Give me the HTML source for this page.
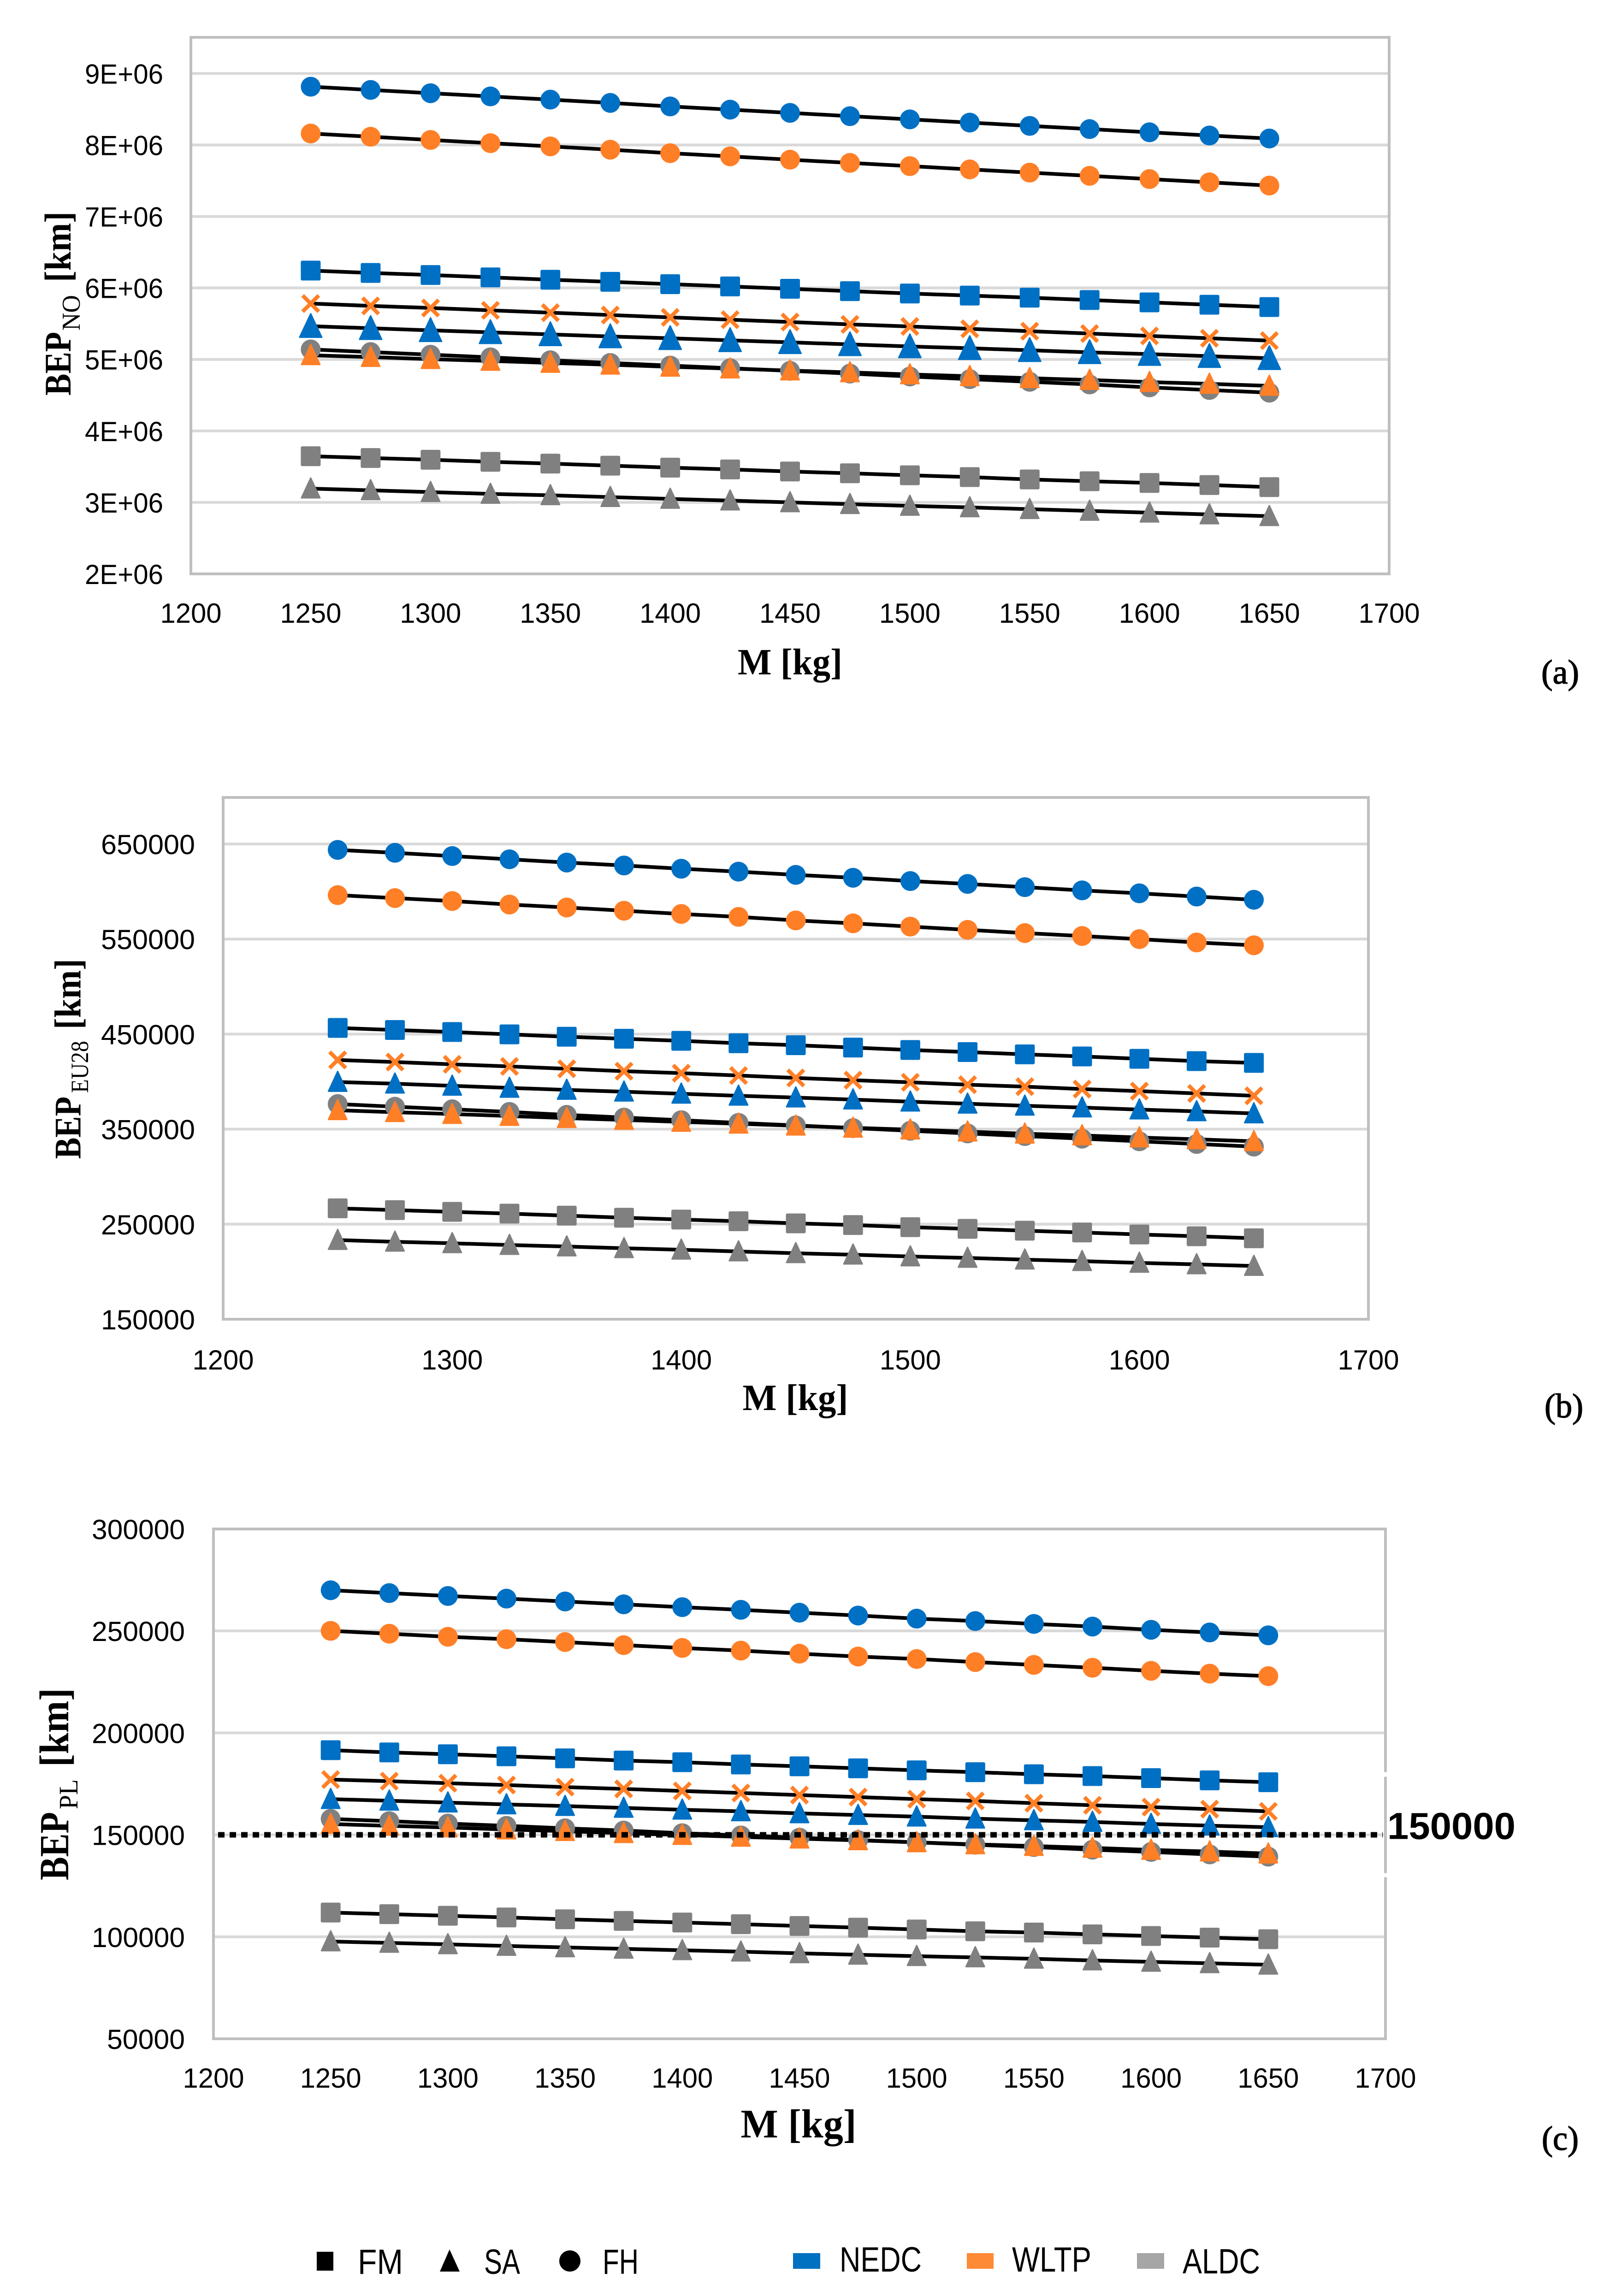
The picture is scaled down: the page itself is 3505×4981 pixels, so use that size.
<!DOCTYPE html>
<html lang="en">
<head>
<meta charset="utf-8">
<title>BEP versus vehicle mass</title>
<style>
html,body{margin:0;padding:0;background:#fff;width:3505px;height:4981px;overflow:hidden}
svg{display:block}
text{fill:#000}
</style>
</head>
<body>
<svg id="page" xmlns="http://www.w3.org/2000/svg" width="3505" height="4981" viewBox="0 0 3505 4981">
  <g id="charts"></g>
  <g font-family="'Liberation Serif',serif" font-size="74" stroke="#000" stroke-width="1.5">
    <text x="3343" y="1483" textLength="82" lengthAdjust="spacingAndGlyphs">(a)</text>
    <text x="3350" y="3075" textLength="84" lengthAdjust="spacingAndGlyphs">(b)</text>
    <text x="3344" y="4664" textLength="80" lengthAdjust="spacingAndGlyphs">(c)</text>
  </g>
  <g font-family="'Liberation Sans',sans-serif" font-size="76">
    <rect x="687" y="4885" width="36" height="41" fill="#000"/>
    <text x="776" y="4933" textLength="98" lengthAdjust="spacingAndGlyphs">FM</text>
    <polygon points="975,4880 997,4928 954,4928" fill="#000"/>
    <text x="1050" y="4933" textLength="78" lengthAdjust="spacingAndGlyphs">SA</text>
    <ellipse cx="1236" cy="4905" rx="23" ry="23" fill="#000"/>
    <text x="1307" y="4933" textLength="78" lengthAdjust="spacingAndGlyphs">FH</text>
    <rect x="1720" y="4888" width="59" height="34" fill="#0070c0"/>
    <text x="1821" y="4928" textLength="178" lengthAdjust="spacingAndGlyphs">NEDC</text>
    <rect x="2097" y="4888" width="58" height="34" fill="#ff8a35"/>
    <text x="2195" y="4928" textLength="172" lengthAdjust="spacingAndGlyphs">WLTP</text>
    <rect x="2466" y="4888" width="59" height="34" fill="#a6a6a6"/>
    <text x="2565" y="4932" textLength="168" lengthAdjust="spacingAndGlyphs">ALDC</text>
  </g>
</svg>
<script>
// ---------- shared categories ----------
const masses = [1250,1275,1300,1325,1350,1375,1400,1425,1450,1475,1500,1525,1550,1575,1600,1625,1650];

// ---------- chart (a) BEP NO ----------
const aFhNedc = [8.815e6,8.77e6,8.724e6,8.679e6,8.634e6,8.588e6,8.539e6,8.494e6,8.449e6,8.403e6,8.358e6,8.313e6,8.267e6,8.222e6,8.177e6,8.132e6,8.09e6];
const aFhWltp = [8.16e6,8.115e6,8.07e6,8.025e6,7.98e6,7.934e6,7.885e6,7.84e6,7.794e6,7.749e6,7.704e6,7.658e6,7.613e6,7.568e6,7.523e6,7.477e6,7.432e6];
const aFmNedc = [6.243e6,6.21e6,6.181e6,6.148e6,6.115e6,6.086e6,6.053e6,6.021e6,5.988e6,5.955e6,5.922e6,5.893e6,5.864e6,5.831e6,5.798e6,5.765e6,5.733e6];
const aFmWltp = [5.782e6,5.749e6,5.72e6,5.687e6,5.654e6,5.621e6,5.588e6,5.556e6,5.523e6,5.49e6,5.461e6,5.428e6,5.395e6,5.362e6,5.329e6,5.296e6,5.263e6];
const aSaNedc = [5.465e6,5.436e6,5.407e6,5.379e6,5.35e6,5.321e6,5.296e6,5.267e6,5.239e6,5.21e6,5.181e6,5.156e6,5.128e6,5.099e6,5.074e6,5.045e6,5.016e6];
const aFhAldc = [5.14e6,5.103e6,5.066e6,5.029e6,4.988e6,4.951e6,4.914e6,4.877e6,4.84e6,4.802e6,4.761e6,4.724e6,4.687e6,4.65e6,4.609e6,4.572e6,4.535e6];
const aSaWltp = [5.058e6,5.033e6,5.004e6,4.979e6,4.951e6,4.926e6,4.897e6,4.872e6,4.844e6,4.819e6,4.79e6,4.765e6,4.737e6,4.712e6,4.683e6,4.658e6,4.63e6];
const aFmAldc = [3.646e6,3.621e6,3.597e6,3.568e6,3.543e6,3.514e6,3.486e6,3.461e6,3.432e6,3.407e6,3.379e6,3.354e6,3.321e6,3.296e6,3.272e6,3.243e6,3.214e6];
const aSaAldc = [3.193e6,3.169e6,3.144e6,3.119e6,3.099e6,3.074e6,3.049e6,3.025e6,3.0e6,2.975e6,2.951e6,2.93e6,2.905e6,2.881e6,2.856e6,2.831e6,2.807e6];
const aYTickValues = [2e6,3e6,4e6,5e6,6e6,7e6,8e6,9e6];
const aYTickLabels = ["2E+06","3E+06","4E+06","5E+06","6E+06","7E+06","8E+06","9E+06"];
const aXTickValues = [1200,1250,1300,1350,1400,1450,1500,1550,1600,1650,1700];

// ---------- chart (b) BEP EU28 ----------
const bFhNedc = [643800,640700,637300,633900,630500,627400,624000,620900,617500,614500,611000,608000,604600,601200,598100,594700,591300];
const bFhWltp = [596200,593100,590000,586300,583200,579800,576400,573300,569600,566500,563100,559700,556300,553200,549900,546400,543400];
const bFmNedc = [456500,454300,452200,449700,447200,445100,442900,440400,438300,435800,433300,431100,428700,426500,424000,421600,419700];
const bFmWltp = [422800,420600,418200,416000,413500,411000,408900,406400,403900,401500,399300,396800,394700,392200,390000,387600,385100];
const bSaNedc = [399600,397800,395600,393400,391300,389400,387200,385100,383200,381100,378900,376700,374600,372700,370600,368700,366500];
const bFhAldc = [376400,373600,370900,368100,365000,362200,359400,356600,353900,351100,348300,345500,342700,340000,337200,334400,331600];
const bSaWltp = [369900,367800,365900,363800,361600,359700,357600,355700,353600,351400,349500,347400,345200,343400,341200,339300,337200];
const bFmAldc = [266700,264800,263000,261100,259000,256800,254900,253100,250900,249100,246900,245100,243200,241300,239200,237300,235200];
const bSaAldc = [233300,231500,229900,228100,226500,224700,223100,221300,219400,217900,216000,214500,212700,211100,209300,207700,206000];
const bYTickValues = [150000,250000,350000,450000,550000,650000];
const bYTickLabels = ["150000","250000","350000","450000","550000","650000"];
const bXTickValues = [1200,1300,1400,1500,1600,1700];

// ---------- chart (c) BEP PL ----------
const cFhNedc = [269900,268500,267100,265800,264400,263000,261600,260300,258900,257500,256000,254800,253400,252100,250500,249200,247800];
const cFhWltp = [250000,248600,247100,245900,244500,243000,241600,240300,238800,237400,236200,234700,233300,231900,230400,229000,227800];
const cFmNedc = [191500,190400,189500,188500,187500,186400,185600,184500,183600,182600,181600,180700,179700,178800,177800,176700,175800];
const cFmWltp = [177100,176300,175300,174400,173400,172500,171500,170500,169500,168500,167500,166600,165500,164500,163600,162600,161500];
const cSaNedc = [167500,166700,165800,164900,164100,163200,162300,161500,160500,159700,158900,157900,157100,156300,155300,154500,153700];
const cFhAldc = [157800,156700,155500,154400,153200,152100,150800,149700,148600,147400,146300,145100,144000,142700,141600,140400,139300];
const cSaWltp = [155300,154400,153600,152600,151800,150800,149900,149000,148100,147300,146300,145300,144500,143600,142600,141800,140800];
const cFmAldc = [111900,111100,110300,109500,108600,107800,107000,106200,105300,104500,103600,102700,102100,101200,100400,99600,98800];
const cSaAldc = [97700,97000,96300,95500,94800,94100,93400,92700,91900,91200,90500,89900,89200,88400,87700,87000,86300];
const cYTickValues = [50000,100000,150000,200000,250000,300000];
const cYTickLabels = ["50000","100000","150000","200000","250000","300000"];
const cXTickValues = [1200,1250,1300,1350,1400,1450,1500,1550,1600,1650,1700];
const cThresholdValue = 150000;
const cThresholdLabel = "150000";

const SVGNS = 'http://www.w3.org/2000/svg';
const BLUE = '#0070c4', ORANGE = '#ff7f27', GRAY = '#808080';
const SANS = "'Liberation Sans',sans-serif", SERIF = "'Liberation Serif',serif";

function mk(parent, tag, attrs) {
  const el = document.createElementNS(SVGNS, tag);
  for (const k in attrs) el.setAttribute(k, attrs[k]);
  parent.appendChild(el);
  return el;
}

function label(parent, name, str, x, y, opts) {
  const w = opts.width;
  const x0 = opts.anchor === 'end' ? x - w : opts.anchor === 'middle' ? x - w / 2 : x;
  const el = mk(parent, 'text', {
    x: x0, y: y, 'font-family': opts.family || SANS, 'font-size': opts.size,
    'font-weight': opts.weight || 'normal', textLength: w, lengthAdjust: 'spacingAndGlyphs'
  });
  
  
  el.textContent = str;
  return el;
}

function rotated(parent, name, str, bx, startY, size, len, weight) {
  const el = mk(parent, 'text', {
    transform: 'translate(' + bx + ',' + startY + ') rotate(-90)',
    x: 0, y: 0, 'font-family': SERIF, 'font-size': size, 'font-weight': weight,
    textLength: len, lengthAdjust: 'spacingAndGlyphs'
  });
  
  
  el.textContent = str;
}

function marker(parent, kind, px, py, size, color, name) {
  let el;
  const r = size / 2;
  if (kind === 'circle') {
    el = mk(parent, 'circle', { cx: px, cy: py, r: r, fill: color });
  } else if (kind === 'square') {
    el = mk(parent, 'rect', { x: px - r, y: py - r, width: size, height: size, rx: 3, fill: color });
  } else if (kind === 'triangle') {
    const q = r - 1.5;
    el = mk(parent, 'polygon', {
      points: px + ',' + (py - q - 3) + ' ' + (px + q) + ',' + (py + q) + ' ' + (px - q) + ',' + (py + q),
      fill: color, stroke: color, 'stroke-width': 3, 'stroke-linejoin': 'round'
    });
  } else {
    const d = r - 4;
    el = mk(parent, 'path', {
      d: 'M' + (px - d) + ' ' + (py - d) + 'L' + (px + d) + ' ' + (py + d) + 'M' + (px - d) + ' ' + (py + d) + 'L' + (px + d) + ' ' + (py - d),
      fill: 'none', stroke: color, 'stroke-width': 8.5
    });
  }
  
  
}

function drawChart(cfg) {
  const root = document.getElementById('charts');
  const g = mk(root, 'g', {});
  
  

  const xScale = v => cfg.left + (v - cfg.xMin) / (cfg.xMax - cfg.xMin) * (cfg.right - cfg.left);
  const yScale = v => cfg.yBottomPx + (v - cfg.yMin) / (cfg.yRefVal - cfg.yMin) * (cfg.yRefPx - cfg.yBottomPx);

  // gridlines
  cfg.yTickValues.forEach((v, i) => {
    const py = yScale(v);
    if (i > 0 && py > cfg.top + 4) {
      const line = mk(g, 'line', { x1: cfg.left, x2: cfg.right, y1: py, y2: py, stroke: '#d9d9d9', 'stroke-width': 6 });
      
      
    }
    label(g, 'y-tick-' + cfg.yTickLabels[i], cfg.yTickLabels[i], cfg.yLabelRight, py + 22, {
      size: 60, anchor: 'end', width: cfg.yLabelWidth(cfg.yTickLabels[i])
    });
  });

  // frame
  const frame = mk(g, 'rect', {
    x: cfg.left, y: cfg.top, width: cfg.right - cfg.left, height: cfg.yBottomPx - cfg.top,
    fill: 'none', stroke: '#bfbfbf', 'stroke-width': 6
  });
  
  

  // x tick labels
  cfg.xTickValues.forEach(v => {
    label(g, 'x-tick-' + v, String(v), xScale(v), cfg.xLabelBase, { size: 60, anchor: 'middle', width: 133 });
  });

  // lines first, markers on top
  cfg.series.forEach(s => {
    const pts = s.values.map((v, i) => xScale(masses[i]) + ',' + yScale(v)).join(' ');
    const line = mk(g, 'polyline', { points: pts, fill: 'none', stroke: '#000', 'stroke-width': 8 });
    
    
  });
  cfg.series.forEach(s => {
    s.values.forEach((v, i) => {
      marker(g, s.kind, xScale(masses[i]), yScale(v), s.size || 43, s.color, 'point-' + s.name + '-' + masses[i]);
    });
  });

  // axis titles
  label(g, 'x-axis-title', 'M [kg]', cfg.xTitleX, cfg.xTitleBase, {
    size: cfg.xTitleSize, anchor: 'middle', width: cfg.xTitleWidth, family: SERIF, weight: 'bold'
  });
  const t = cfg.yTitle;
  rotated(g, 'y-axis-title-main', 'BEP', t.base, t.bepStart, t.size, t.bepLen, 'bold');
  rotated(g, 'y-axis-title-subscript', t.sub, t.subBase, t.subStart, t.subSize, t.subLen, 'normal');
  rotated(g, 'y-axis-title-unit', '[km]', t.base, t.unitStart, t.size, t.unitLen, 'bold');

  if (cfg.after) cfg.after(g, xScale, yScale);
}

function seriesOf(fhN, fhW, fmN, fmW, saN, fhA, saW, fmA, saA, saNedcSize) {
  return [
    { name: 'fh-aldc', values: fhA, kind: 'circle', color: GRAY },
    { name: 'sa-wltp', values: saW, kind: 'triangle', color: ORANGE },
    { name: 'sa-aldc', values: saA, kind: 'triangle', color: GRAY },
    { name: 'fm-aldc', values: fmA, kind: 'square', color: GRAY },
    { name: 'fm-wltp', values: fmW, kind: 'x', color: ORANGE },
    { name: 'sa-nedc', values: saN, kind: 'triangle', color: BLUE, size: saNedcSize },
    { name: 'fm-nedc', values: fmN, kind: 'square', color: BLUE },
    { name: 'fh-wltp', values: fhW, kind: 'circle', color: ORANGE },
    { name: 'fh-nedc', values: fhN, kind: 'circle', color: BLUE }
  ];
}

drawChart({
  name: 'chart-a-bep-no', left: 414, right: 3013, top: 81, yBottomPx: 1245, yRefPx: 159.4,
  xMin: 1200, xMax: 1700, yMin: 2e6, yRefVal: 9e6,
  xTickValues: aXTickValues, yTickValues: aYTickValues, yTickLabels: aYTickLabels,
  yLabelRight: 354, yLabelWidth: () => 170, xLabelBase: 1351,
  xTitleX: 1713.5, xTitleBase: 1463, xTitleSize: 80, xTitleWidth: 227,
  yTitle: { base: 153, size: 82, bepStart: 858, bepLen: 138, sub: 'NO', subBase: 173, subStart: 717, subSize: 56, subLen: 77, unitStart: 612, unitLen: 153 },
  series: seriesOf(aFhNedc, aFhWltp, aFmNedc, aFmWltp, aSaNedc, aFhAldc, aSaWltp, aFmAldc, aSaAldc, 51)
});

drawChart({
  name: 'chart-b-bep-eu28', left: 484, right: 2968, top: 1730, yBottomPx: 2862, yRefPx: 1831,
  xMin: 1200, xMax: 1700, yMin: 150000, yRefVal: 650000,
  xTickValues: bXTickValues, yTickValues: bYTickValues, yTickLabels: bYTickLabels,
  yLabelRight: 423, yLabelWidth: () => 204, xLabelBase: 2971,
  xTitleX: 1725, xTitleBase: 3059, xTitleSize: 80, xTitleWidth: 229,
  yTitle: { base: 174.5, size: 82, bepStart: 2514, bepLen: 135, sub: 'EU28', subBase: 191, subStart: 2371, subSize: 54, subLen: 113, unitStart: 2233, unitLen: 153 },
  series: seriesOf(bFhNedc, bFhWltp, bFmNedc, bFmWltp, bSaNedc, bFhAldc, bSaWltp, bFmAldc, bSaAldc, 43)
});

drawChart({
  name: 'chart-c-bep-pl', left: 463, right: 3005, top: 3317, yBottomPx: 4423, yRefPx: 3538,
  xMin: 1200, xMax: 1700, yMin: 50000, yRefVal: 250000,
  xTickValues: cXTickValues, yTickValues: cYTickValues, yTickLabels: cYTickLabels,
  yLabelRight: 401, yLabelWidth: s => s.length === 5 ? 169 : 202, xLabelBase: 4529,
  xTitleX: 1732, xTitleBase: 4637, xTitleSize: 88, xTitleWidth: 251,
  yTitle: { base: 148, size: 90, bepStart: 4079, bepLen: 148, sub: 'PL', subBase: 168, subStart: 3925, subSize: 58, subLen: 65, unitStart: 3833, unitLen: 171 },
  series: seriesOf(cFhNedc, cFhWltp, cFmNedc, cFmWltp, cSaNedc, cFhAldc, cSaWltp, cFmAldc, cSaAldc, 43),
  after: (g, xScale, yScale) => {
    const py = yScale(cThresholdValue);
    const dotted = mk(g, 'line', { x1: 473, x2: 2999, y1: py, y2: py, stroke: '#000', 'stroke-width': 12, 'stroke-dasharray': '14 11' });
    
    
    const gapTop = mk(g, 'rect', { x: 2998, y: py - 136, width: 14, height: 10, fill: '#fff' });
    
    
    const gapBottom = mk(g, 'rect', { x: 2998, y: py + 83, width: 14, height: 9, fill: '#fff' });
    
    
    label(g, 'threshold-label', cThresholdLabel, 3009, py + 9, { size: 82, weight: 'bold', anchor: 'start', width: 278 });
  }
});
</script>
</body>
</html>
